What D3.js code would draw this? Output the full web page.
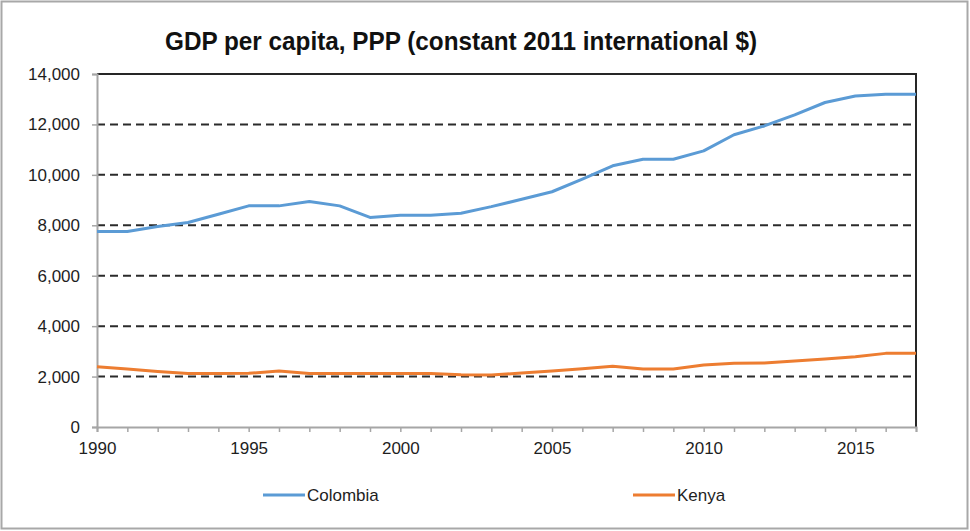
<!DOCTYPE html>
<html>
<head>
<meta charset="utf-8">
<script src="https://cdn.jsdelivr.net/npm/d3@7/dist/d3.min.js"></script>
<style>
  html, body { margin: 0; padding: 0; background: #fff; }
  svg { display: block; }
  text { font-family: "Liberation Sans", Arial, sans-serif; fill: #1e1e1e; }
</style>
</head>
<body>
<svg id="chart" width="970" height="531"></svg>
<script>
// Annual values, 1990-2017
const years = d3.range(1990, 2018);
const colombia = [7750, 7750, 7950, 8110, 8440, 8770, 8770, 8940, 8770, 8310,
                  8400, 8400, 8480, 8740, 9030, 9330, 9830, 10360, 10620, 10620,
                  10950, 11590, 11940, 12380, 12870, 13130, 13200, 13200];
const kenya = [2390, 2300, 2200, 2120, 2120, 2130, 2220, 2120, 2120, 2120,
               2120, 2120, 2070, 2060, 2140, 2220, 2310, 2410, 2300, 2300,
               2460, 2530, 2540, 2620, 2700, 2790, 2920, 2920];
const yTicks = [0, 2000, 4000, 6000, 8000, 10000, 12000, 14000];
const xLabelYears = [1990, 1995, 2000, 2005, 2010, 2015];
const seriesNames = ["Colombia", "Kenya"];
const seriesColors = ["#5b9bd5", "#ed7d31"];
const titleText = "GDP per capita, PPP (constant 2011 international $)";

const svg = d3.select("#chart");

// outer frame
svg.append("rect")
  .attr("x", 1.5).attr("y", 1.5).attr("width", 966).attr("height", 527)
  .attr("fill", "#fff").attr("stroke", "#a8a8a8").attr("stroke-width", 2);

const plotLeft = 97, plotRight = 916, plotTop = 74, plotBottom = 427;
const x = d3.scaleLinear().domain([1990, 2017]).range([plotLeft, plotRight]);
const y = d3.scaleLinear().domain([0, 14000]).range([plotBottom, plotTop]);

// title
svg.append("text")
  .attr("x", 461).attr("y", 50)
  .attr("text-anchor", "middle")
  .attr("textLength", 592).attr("lengthAdjust", "spacingAndGlyphs")
  .style("font-family", "'Liberation Sans Narrow', 'Liberation Sans', Arial, sans-serif")
  .style("font-weight", "bold").style("font-size", "26px")
  .style("fill", "#111")
  .text(titleText);

// dashed gridlines
svg.append("g")
  .selectAll("line")
  .data(yTicks.filter(v => v > 0 && v < 14000))
  .join("line")
  .attr("x1", plotLeft).attr("x2", plotRight)
  .attr("y1", d => y(d)).attr("y2", d => y(d))
  .attr("stroke", "#2b2b2b").attr("stroke-width", 2)
  .attr("stroke-dasharray", "8,5");

// top and right border of the plot area
svg.append("path")
  .attr("d", `M${plotLeft},${y(14000)}H${plotRight}V${plotBottom}`)
  .attr("fill", "none").attr("stroke", "#262626").attr("stroke-width", 2);

// y axis
const yAxis = svg.append("g")
  .attr("transform", `translate(${plotLeft},0)`)
  .call(d3.axisLeft(y).tickValues(yTicks).tickSize(5).tickPadding(12)
    .tickFormat(d3.format(",")));
yAxis.select(".domain").attr("stroke", "#a6a6a6").attr("stroke-width", 2);
yAxis.selectAll(".tick line").attr("stroke", "#a6a6a6").attr("stroke-width", 1.5);
yAxis.selectAll(".tick text")
  .style("font-size", "17px").style("fill", "#1e1e1e")
  .style("font-family", "'Liberation Sans', Arial, sans-serif");

// x axis
const xAxis = svg.append("g")
  .attr("transform", `translate(0,${plotBottom})`)
  .call(d3.axisBottom(x).tickValues(years).tickSize(5).tickPadding(10)
    .tickFormat(d => xLabelYears.includes(d) ? String(d) : ""));
xAxis.select(".domain").attr("stroke", "#a6a6a6").attr("stroke-width", 2);
xAxis.selectAll(".tick line").attr("stroke", "#a6a6a6").attr("stroke-width", 1.5);
xAxis.selectAll(".tick text")
  .style("font-size", "17px").style("fill", "#1e1e1e")
  .style("font-family", "'Liberation Sans', Arial, sans-serif");

// series lines
const line = d3.line().x((d, i) => x(years[i])).y(d => y(d));
[colombia, kenya].forEach((vals, i) => {
  svg.append("path")
    .datum(vals)
    .attr("d", line)
    .attr("fill", "none")
    .attr("stroke", seriesColors[i])
    .attr("stroke-width", 3)
    .attr("stroke-linejoin", "round");
});

// legend
const legendX = [263, 633];
const legendY = 495;
seriesNames.forEach((name, i) => {
  const g = svg.append("g").attr("transform", `translate(${legendX[i]},${legendY})`);
  g.append("line").attr("x1", 0).attr("x2", 42).attr("y1", 0).attr("y2", 0)
    .attr("stroke", seriesColors[i]).attr("stroke-width", 3);
  g.append("text").attr("x", 44).attr("y", 6)
    .style("font-size", "17px").style("fill", "#1e1e1e")
    .text(name);
});
</script>
</body>
</html>
